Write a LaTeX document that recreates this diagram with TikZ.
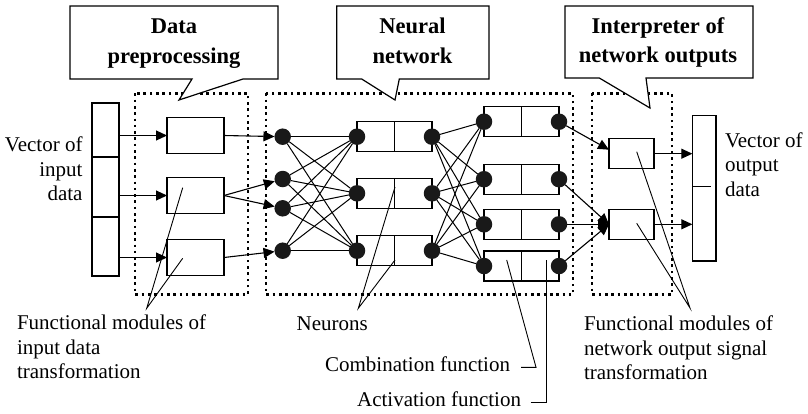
\documentclass[tikz,border=0pt]{standalone}
\usepackage{fontspec}
\setmainfont{Liberation Serif}
\usetikzlibrary{arrows.meta,calc}

\begin{document}
\begin{tikzpicture}[x=1pt,y=-1pt,
  every node/.style={inner sep=0pt, outer sep=0pt},
  box/.style={draw, rectangle, line width=1.2pt},
  neuron/.style={circle, fill=black!90, minimum size=16.5pt, inner sep=0pt},
  link/.style={line width=1pt},
  flow/.style={line width=1.1pt, -{Triangle[length=11pt,width=10pt]}},
  leader/.style={line width=0.9pt},
  dotbox/.style={line width=2.6pt, dash pattern=on 2.6pt off 3.7pt},
  callout/.style={line width=1.2pt, fill=white},
  lbl/.style={font=\fontsize{21}{24}\selectfont},
  ttl/.style={font=\fontsize{22.5}{29}\selectfont\bfseries},
]
\useasboundingbox (0,0) rectangle (808,413);

% ---- dotted frames of the three stages
\draw[dotbox] (135,93.3) rectangle (248,294.5);
\draw[dotbox] (266,93.3) rectangle (573,294.5);
\draw[dotbox] (592,93.3) rectangle (672,294.5);

% ---- title callouts
\node[minimum width=208pt, minimum height=73pt] (t1) at (174,42.5) {};
\coordinate (t1p) at (179,100);
\draw[callout] (t1.south west) -- (t1.north west) -- (t1.north east) -- (t1.south east)
  -- ($(t1.south west)+(173,0)$) -- (t1p) -- ($(t1.south west)+(122,0)$) -- cycle;
\node[ttl, anchor=base] (t1a) at (174,33) {Data};
\node[ttl, anchor=base] (t1b) at (174,63) {preprocessing};

\node[minimum width=152.3pt, minimum height=73pt] (t2) at (412.85,42.5) {};
\coordinate (t2p) at (395,100);
\draw[callout] (t2.south west) -- (t2.north west) -- (t2.north east) -- (t2.south east)
  -- ($(t2.south west)+(62.6,0)$) -- (t2p) -- ($(t2.south west)+(25,0)$) -- cycle;
\node[ttl, anchor=base] (t2a) at (412.5,33) {Neural};
\node[ttl, anchor=base] (t2b) at (412.5,63) {network};

\node[minimum width=188pt, minimum height=72pt] (t3) at (659,42) {};
\coordinate (t3p) at (650,108);
\draw[callout] (t3.south west) -- (t3.north west) -- (t3.north east) -- (t3.south east)
  -- ($(t3.south west)+(81,0)$) -- (t3p) -- ($(t3.south west)+(34.3,0)$) -- cycle;
\node[ttl, anchor=base] (t3a) at (658,33) {Interpreter of};
\node[ttl, anchor=base] (t3b) at (658,62.5) {network outputs};

% ---- input vector
\node[box, minimum width=27pt, minimum height=173pt] (iv) at (105.5,189.5) {};
\draw[line width=1.2pt] ($(iv.north west)+(0,54)$) -- ($(iv.north east)+(0,54)$);
\draw[line width=2pt] ($(iv.north west)+(0,114)$) -- ($(iv.north east)+(0,114)$);
\node[lbl, anchor=base east] (ivl1) at (82.5,151.5) {Vector of};
\node[lbl, anchor=base east] (ivl2) at (82.5,176) {input};
\node[lbl, anchor=base east] (ivl3) at (82.5,200.5) {data};

% ---- preprocessing modules
\node[box, minimum width=57pt, minimum height=36pt] (dp1) at (195.5,135.5) {};
\node[box, minimum width=57pt, minimum height=36pt] (dp2) at (195.5,195.5) {};
\node[box, minimum width=57pt, minimum height=36pt] (dp3) at (195.5,257.5) {};
\foreach \k in {1,2,3}
  \draw[flow] (dp\k.west -| iv.east) -- (dp\k.west);

% ---- neural network: boxes
\foreach \k/\y in {1/136.7,2/193.3,3/250.7}{
  \node[box, minimum width=75pt, minimum height=30pt] (nb\k) at (394.5,\y) {};
  \draw[line width=1.1pt] (nb\k.north) -- (nb\k.south);
}
\foreach \k/\y in {1/121.7,2/179.2,3/224.3,4/266}{
  \node[box, minimum width=75pt, minimum height=30pt] (db\k) at (521.5,\y) {};
  \draw[line width=1.1pt] (db\k.north) -- (db\k.south);
}

% ---- neurons
\node[neuron] (a1) at (282.7,136.7) {};
\node[neuron] (a2) at (282.7,179) {};
\node[neuron] (a3) at (282.7,208.3) {};
\node[neuron] (a4) at (282.7,250.7) {};
\foreach \k in {1,2,3}{
  \node[neuron] (b\k) at (nb\k.west) {};
  \node[neuron] (c\k) at (nb\k.east) {};
}
\foreach \k in {1,...,4}{
  \node[neuron] (d\k) at (db\k.west) {};
  \node[neuron] (e\k) at (db\k.east) {};
}

% ---- fully connected layers
\foreach \i in {1,...,4}
  \foreach \j in {1,2,3}
    \draw[link] (a\i) -- (b\j);
\foreach \i in {1,2,3}
  \foreach \j in {1,...,4}
    \draw[link] (c\i) -- (d\j);

% ---- preprocessing to input neurons
\draw[flow] (dp1.east) -- (a1);
\draw[flow] (dp2.east) -- (a2);
\draw[flow] (dp2.east) -- (a3);
\draw[flow] (dp3.east) -- (a4);

% ---- output modules and output vector
\node[box, minimum width=45pt, minimum height=30pt] (ob1) at (631.5,153.7) {};
\node[box, minimum width=45pt, minimum height=30pt] (ob2) at (631.5,224.3) {};
\node[box, minimum width=23.7pt, minimum height=145.3pt] (ov) at (704.2,188.3) {};
\draw[line width=1.2pt] ([yshift=2pt]ov.west) -- ++(18.5,0);

\draw[flow] (e1) -- ([yshift=4pt]ob1.west);
\draw[flow] (e2) -- (ob2.west);
\draw[flow] (e3) -- (ob2.west);
\draw[flow] (e4) -- (ob2.west);
\draw[flow] (ob1.east) -- (ob1.east -| ov.west);
\draw[flow] (ob2.east) -- (ob2.east -| ov.west);

\node[lbl, anchor=base west] (ovl1) at (725,147) {Vector of};
\node[lbl, anchor=base west] (ovl2) at (725,171.5) {output};
\node[lbl, anchor=base west] (ovl3) at (725,196) {data};

% ---- bottom captions
\node[lbl, anchor=base west] (fm1) at (17,329.5) {Functional modules of};
\node[lbl, anchor=base west] (fm2) at (17,354) {input data};
\node[lbl, anchor=base west] (fm3) at (17,378.5) {transformation};

\node[lbl, anchor=base west] (nr) at (296.7,330) {Neurons};
\node[lbl, anchor=base east] (cf) at (510,371.5) {Combination function};
\node[lbl, anchor=base east] (af) at (521,406.5) {Activation function};

\node[lbl, anchor=base west] (om1) at (584,330.5) {Functional modules of};
\node[lbl, anchor=base west] (om2) at (584,355) {network output signal};
\node[lbl, anchor=base west] (om3) at (584,379.5) {transformation};

% ---- leader lines
\coordinate (fmp) at (146.7,308.3);
\coordinate (fmq1) at (182.7,187.7);
\coordinate (fmq2) at (182.7,258.3);
\draw[leader] (fmq1) -- (fmp) -- (fmq2);

\coordinate (nrp) at (358.3,308.3);
\coordinate (nrq1) at (395,187);
\coordinate (nrq2) at (395,260);
\draw[leader] (nrq1) -- (nrp) -- (nrq2);

\coordinate (cfp) at (521,367.3);
\coordinate (cfk) at (536,367.3);
\coordinate (cfq) at (506.7,260);
\draw[leader] (cfp) -- (cfk) -- (cfq);

\coordinate (afp) at (530.7,402.7);
\coordinate (afk) at (546,402.7);
\coordinate (afq) at (546,260);
\draw[leader] (afp) -- (afk) -- (afq);

\coordinate (omp) at (690,308);
\coordinate (omq1) at (636.7,151.7);
\coordinate (omq2) at (636.7,223.3);
\draw[leader] (omq1) -- (omp) -- (omq2);
\end{tikzpicture}
\end{document}
